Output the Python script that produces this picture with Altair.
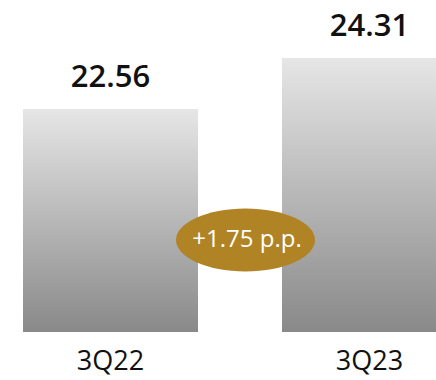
import altair as alt
import pandas as pd

categories = ["3Q22", "3Q23"]
values = [22.56, 24.31]
value_labels = ["22.56", "24.31"]
delta_label = "+1.75 p.p."

y_min = 14.907

df = pd.DataFrame({"cat": categories, "value": values, "label": value_labels})

FONT = "Open Sans"

xscale = alt.Scale(domain=categories, range=[23, 457], paddingInner=0.3243, paddingOuter=0)
yscale = alt.Scale(domain=[y_min, 24.31], range=[332, 58], zero=False, nice=False)

base = alt.Chart(df).encode(x=alt.X("cat:N", scale=xscale, axis=None))

grad = alt.Gradient(
    gradient="linear",
    stops=[alt.GradientStop(color="#e6e6e6", offset=0),
           alt.GradientStop(color="#898989", offset=1)],
    x1=0, x2=0, y1=0, y2=1,
)

bars = base.mark_bar(color=grad).encode(
    y=alt.Y("value:Q", scale=yscale, axis=None),
    y2=alt.datum(y_min),
)

vals = base.mark_text(
    dy=-22, baseline="alphabetic", fontSize=31, fontWeight=600, font=FONT, color="#111111"
).encode(y=alt.Y("value:Q", scale=yscale, axis=None), text="label:N")

cats = base.mark_text(
    baseline="bottom", fontSize=27, fontWeight=500, font=FONT, color="#111111"
).encode(y=alt.value(376), text="cat:N")

ann_df = pd.DataFrame({"label": [delta_label]})
ellipse_path = "M-1,0A1,0.453,0,1,1,1,0A1,0.453,0,1,1,-1,0Z"
ellipse = alt.Chart(ann_df).mark_point(
    shape=ellipse_path, size=19321, filled=True, color="#B08325", opacity=1, strokeWidth=0
).encode(x=alt.value(245.5), y=alt.value(240))
ann_text = alt.Chart(ann_df).mark_text(
    color="white", fontSize=24, font=FONT, baseline="alphabetic"
).encode(x=alt.value(247), y=alt.value(247), text="label:N")

chart = alt.layer(bars, vals, cats, ellipse, ann_text).properties(
    width=436, height=380, padding=0, autosize=alt.AutoSizeParams(type="none")
).configure_view(stroke=None)

chart.save("out.html", embed_options={"renderer": "svg", "actions": False})
